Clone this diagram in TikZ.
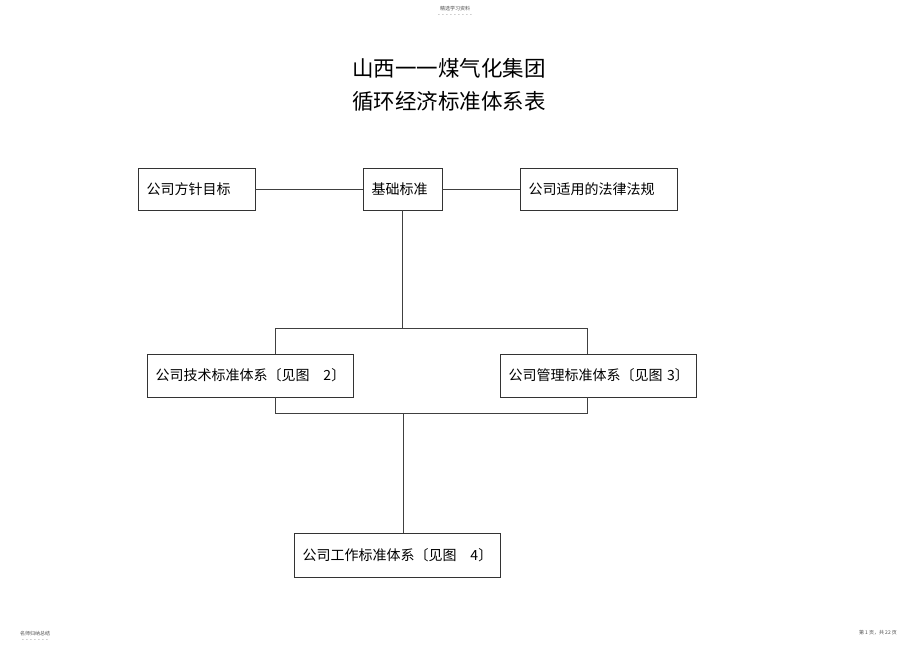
\documentclass[tikz,border=0pt]{standalone}
\usepackage{fontspec}
\setmainfont{Noto Sans CJK SC}
\usetikzlibrary{shadows}

\tikzset{
  stdbox/.style={draw=black!80, fill=white, line width=0.6pt, inner xsep=8.5pt,
    align=left, font=\fontsize{14}{16}\selectfont,
    drop shadow={shadow xshift=1pt, shadow yshift=-1pt, fill=black, opacity=0.8}},
  lien/.style={draw=black!75, line width=0.7pt},
  petit/.style={font=\fontsize{5}{6}\selectfont, text=black!70}
}

\begin{document}
\begin{tikzpicture}[x=1pt,y=-1pt]
	\useasboundingbox (0,0) rectangle (920,651);

	%en-tete et pied de page
	\node [petit] (entete) at (455,9) {精选学习资料};
	\node [petit] (entetepts) at (455,16) {-\ \ -\ \ -\ \ -\ \ -\ \ -\ \ -\ \ -\ \ -};
	\node [petit] (pied) at (35,634) {名师归纳总结};
	\node [petit] (piedpts) at (35,641) {-\ \ -\ \ -\ \ -\ \ -\ \ -\ \ -};
	\node [petit] (page) at (878,633) {第 1 页，共 22 页};
	%fin

	%titre
	\node (titre1) at (449,68) {\fontsize{21.5}{24}\selectfont 山西一一煤气化集团};
	\node (titre2) at (449,101) {\fontsize{21.5}{24}\selectfont 循环经济标准体系表};

	%boites
	\node [stdbox, text width=100pt, minimum height=42pt] (cible) at (196.5,189) {公司方针目标};
	\node [stdbox, text width=62pt, minimum height=42pt] (base) at (402.5,189) {基础标准};
	\node [stdbox, text width=140pt, minimum height=42pt] (lois) at (598.5,189) {公司适用的法律法规};
	\node [stdbox, text width=189pt, minimum height=43pt] (tech) at (250,375.5) {公司技术标准体系〔见图~~~2〕};
	\node [stdbox, text width=179pt, minimum height=43pt] (gestion) at (598,375.5) {公司管理标准体系〔见图~3〕};
	\node [stdbox, text width=189pt, minimum height=44pt] (travail) at (397,555) {公司工作标准体系〔见图~~~4〕};

	%points de jonction
	\coordinate (j0) at (403,328);
	\coordinate (jl) at (275,328);
	\coordinate (jr) at (587,328);
	\coordinate (kl) at (275,413);
	\coordinate (kr) at (587,413);
	\coordinate (k0) at (403,413);

	%liaisons
	\draw [lien] (cible.east) -- (base.west);
	\draw [lien] (base.east) -- (lois.west);
	\draw [lien] (base.south) -- (base.south |- j0);
	\draw [lien] (jl |- tech.north) -- (jl) -- (jr) -- (jr |- gestion.north);
	\draw [lien] (jl |- tech.south) -- (kl) -- (kr) -- (jr |- gestion.south);
	\draw [lien] (k0) -- (k0 |- travail.north);
\end{tikzpicture}
\end{document}
